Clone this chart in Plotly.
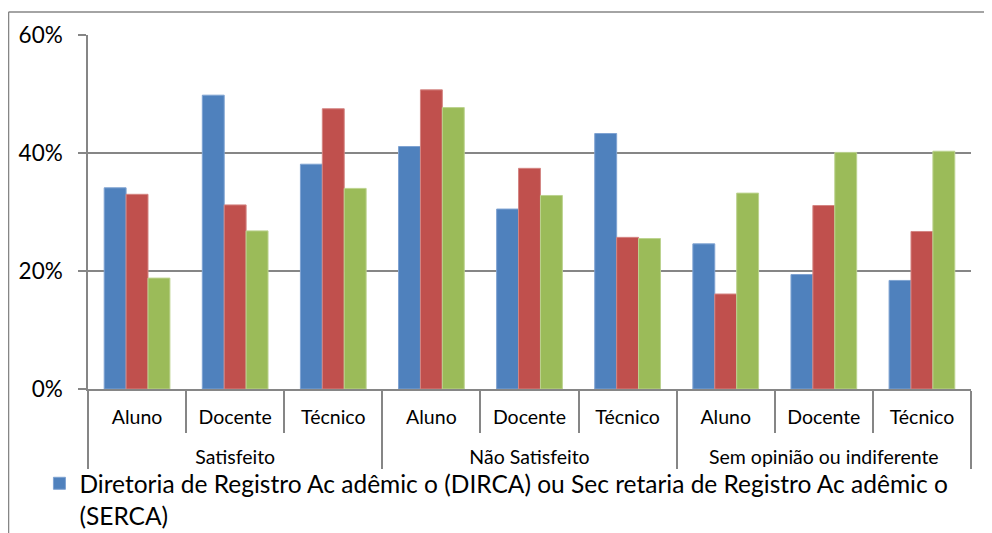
import plotly.graph_objects as go

groups = ["Satisfeito"] * 3 + ["Não Satisfeito"] * 3 + ["Sem opinião ou indiferente"] * 3
roles = ["Aluno", "Docente", "Técnico"] * 3

dirca = [34.1, 49.8, 38.1, 41.1, 30.5, 43.3, 24.6, 19.4, 18.4]
serie2 = [33.0, 31.2, 47.5, 50.7, 37.4, 25.7, 16.1, 31.1, 26.7]
serie3 = [18.8, 26.8, 34.0, 47.7, 32.8, 25.5, 33.2, 40.1, 40.3]

y_ticks = [0, 20, 40, 60]
y_labels = ["0%", "20%", "40%", "60%"]

dirca_name = ("Diretoria de Registro Ac adêmic o (DIRCA) ou Sec retaria de Registro Ac adêmic o"
              "<br>(SERCA)")

grey = "#868686"
font = "Lato, 'Open Sans', sans-serif"

# a blank second line under each role label pushes the group row further down
x = [groups, [r + "<br>\u00a0" for r in roles]]

fig = go.Figure()
fig.add_trace(go.Bar(x=x, y=dirca, name=dirca_name,
                     marker=dict(color="#4F81BD", line=dict(color="#7FA3D2", width=1))))
fig.add_trace(go.Bar(x=x, y=serie2, name="Série 2", showlegend=False,
                     marker=dict(color="#C0504D", line=dict(color="#D48583", width=1))))
fig.add_trace(go.Bar(x=x, y=serie3, name="Série 3", showlegend=False,
                     marker=dict(color="#9BBB59", line=dict(color="#BCD38F", width=1))))

fig.update_layout(
    width=984, height=525,
    margin=dict(l=80, r=21, t=27, b=144, autoexpand=False),
    paper_bgcolor="white", plot_bgcolor="white",
    font=dict(family=font, color="black"),
    barmode="group", bargap=0.33, bargroupgap=0,
    showlegend=True,
    legend=dict(x=-0.055, y=-0.203, xanchor="left", yanchor="top",
                orientation="v", valign="top", font=dict(size=24.5),
                bgcolor="rgba(0,0,0,0)"),
)

fig.update_yaxes(range=[0, 60], tickvals=y_ticks, ticktext=y_labels,
                 showgrid=True, gridcolor=grey, gridwidth=1.5,
                 showline=True, linecolor=grey, linewidth=1.5,
                 ticks="outside", ticklen=8, tickcolor=grey, tickwidth=1.5,
                 ticklabelstandoff=11, tickfont=dict(size=22.5), zeroline=False,
                 automargin=False)
fig.update_xaxes(type="multicategory", showline=True, linecolor=grey, linewidth=1.5,
                 ticks="outside", ticklen=42, tickcolor=grey, tickwidth=1.5,
                 showdividers=True, dividercolor=grey, dividerwidth=1.5,
                 ticklabelstandoff=10, tickfont=dict(size=19.5), automargin=False)

# outer chart frame (top and left edges)
fig.add_shape(type="line", xref="paper", yref="paper",
              x0=-0.090, x1=1.05, y0=1.065, y1=1.065, line=dict(color=grey, width=1.5))
fig.add_shape(type="line", xref="paper", yref="paper",
              x0=-0.090, x1=-0.090, y0=1.065, y1=-0.45, line=dict(color=grey, width=1.5))

fig.write_html("out.html")
